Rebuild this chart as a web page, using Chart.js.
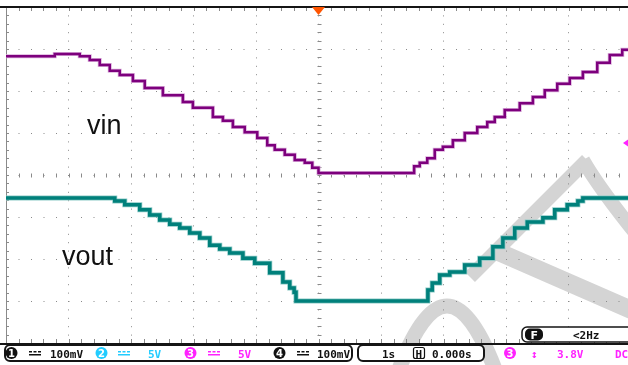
<!DOCTYPE html>
<html>
<head>
<meta charset="utf-8">
<script src="https://cdn.jsdelivr.net/npm/chart.js@4.4.0/dist/chart.umd.min.js"></script>
<style>
html, body { margin: 0; padding: 0; background: #fff; overflow: hidden; }
#wrap { position: relative; width: 634px; height: 365px; }
</style>
</head>
<body>
<div id="wrap"><canvas id="scope" width="634" height="365"></canvas></div>
<script>
// time in s (1 s/div, trigger at 0), level in divisions from screen centre
const vinTime = [-5.0, -4.22, -3.82, -3.66, -3.50, -3.34, -3.18, -2.97, -2.78, -2.49, -2.17, -2.01, -1.69, -1.53, -1.37, -1.18, -0.98, -0.82, -0.70, -0.54, -0.38, -0.22, -0.10, 0.0, 1.46, 1.53, 1.62, 1.74, 1.86, 1.99, 2.15, 2.34, 2.54, 2.70, 2.82, 2.98, 3.22, 3.43, 3.62, 3.82, 4.02, 4.23, 4.46, 4.66, 4.86, 5.0];
const vinLevel = [2.83, 2.88, 2.83, 2.74, 2.62, 2.48, 2.38, 2.24, 2.07, 1.90, 1.74, 1.60, 1.38, 1.29, 1.14, 1.02, 0.88, 0.71, 0.60, 0.48, 0.36, 0.29, 0.17, 0.05, 0.05, 0.21, 0.29, 0.40, 0.60, 0.67, 0.83, 1.00, 1.14, 1.26, 1.38, 1.55, 1.71, 1.86, 2.02, 2.17, 2.31, 2.45, 2.67, 2.86, 2.98, 3.02];

const voutTime = [-5.0, -3.38, -3.26, -3.10, -2.86, -2.70, -2.54, -2.38, -2.22, -2.06, -1.90, -1.74, -1.58, -1.42, -1.21, -1.02, -0.78, -0.57, -0.46, -0.39, -0.36, 1.74, 1.75, 1.82, 1.94, 2.10, 2.34, 2.58, 2.79, 2.95, 3.14, 3.34, 3.59, 3.78, 3.98, 4.15, 4.23, 5.0];
const voutLevel = [-0.55, -0.55, -0.62, -0.71, -0.83, -0.95, -1.07, -1.17, -1.26, -1.38, -1.50, -1.67, -1.76, -1.86, -1.98, -2.10, -2.33, -2.55, -2.69, -2.79, -3.00, -3.00, -2.74, -2.57, -2.38, -2.31, -2.14, -1.98, -1.71, -1.50, -1.26, -1.12, -1.02, -0.83, -0.71, -0.62, -0.55, -0.55];

const timeDivs = [-5, -4, -3, -2, -1, 0, 1, 2, 3, 4, 5];
const levelDivs = [-4, -3, -2, -1, 0, 1, 2, 3, 4];

const traceLabels = ['vin', 'vout'];

function points(xs, ys) {
    return xs.map((t, i) => ({ x: t, y: ys[i] }));
}

// scope screen decorations: watermark, minor ticks, markers, status bar
const scopeDecor = {
    id: 'scopeDecor',
    beforeDraw(chart) {
        const c = chart.ctx;
        c.save();
        c.fillStyle = '#fff';
        c.fillRect(0, 0, chart.width, chart.height);
        // grey watermark strokes
        c.strokeStyle = '#d4d4d4';
        c.lineCap = 'butt';
        c.lineWidth = 15;
        c.beginPath();
        c.moveTo(398, 372);
        c.quadraticCurveTo(447, 240, 496, 372);
        c.stroke();
        c.lineWidth = 14;
        c.beginPath();
        c.moveTo(470, 277);
        c.lineTo(587, 160);
        c.stroke();
        c.beginPath();
        c.moveTo(583, 160);
        c.quadraticCurveTo(600, 190, 645, 245);
        c.stroke();
        c.lineWidth = 18;
        c.beginPath();
        c.moveTo(494, 250);
        c.lineTo(645, 316);
        c.stroke();
        c.restore();
    },
    beforeDatasetsDraw(chart) {
        const { ctx: c, chartArea: a, scales: { x, y } } = chart;
        c.save();
        c.strokeStyle = '#8a8a8a';
        c.lineWidth = 1;
        const cx = Math.round(x.getPixelForValue(0)) + 0.5;
        const cy = Math.round(y.getPixelForValue(0)) + 0.5;
        c.beginPath();
        for (let i = 0; i <= 50; i++) {
            const px = Math.round(x.getPixelForValue(-5 + i * 0.2)) + 0.5;
            c.moveTo(px, cy - 2); c.lineTo(px, cy + 2);
            c.moveTo(px, a.top + 1); c.lineTo(px, a.top + 4);
            c.moveTo(px, a.bottom - 4); c.lineTo(px, a.bottom);
        }
        for (let i = 0; i <= 40; i++) {
            const py = Math.round(y.getPixelForValue(-4 + i * 0.2)) + 0.5;
            c.moveTo(cx - 2, py); c.lineTo(cx + 2, py);
            c.moveTo(a.left, py); c.lineTo(a.left + 3, py);
        }
        c.moveTo(a.left + 0.5, a.top);
        c.lineTo(a.left + 0.5, a.bottom);
        c.stroke();
        c.fillStyle = '#151515';
        c.fillRect(0, a.top - 1, chart.width, 2);
        c.restore();
    },
    afterDatasetsDraw(chart) {
        const { ctx: c, chartArea: a, scales: { x, y } } = chart;
        c.save();
        // trace names
        c.fillStyle = '#111';
        c.font = '27px "Liberation Sans", Arial, sans-serif';
        c.textBaseline = 'alphabetic';
        c.fillText(traceLabels[0], 87, 134);
        c.fillText(traceLabels[1], 62, 265);

        // trigger position marker
        const tx = x.getPixelForValue(0);
        c.fillStyle = '#ff5500';
        c.beginPath();
        c.moveTo(tx - 6.5, a.top);
        c.lineTo(tx + 6.5, a.top);
        c.lineTo(tx, a.top + 8);
        c.closePath();
        c.fill();

        // trigger level marker (ch3)
        c.fillStyle = '#ff22ff';
        c.beginPath();
        c.moveTo(623, 143);
        c.lineTo(628, 139.5);
        c.lineTo(628, 146.5);
        c.closePath();
        c.fill();

        // status bar
        const base = 358;
        c.fillStyle = '#151515';
        c.fillRect(0, a.bottom, chart.width, 2);
        c.strokeStyle = '#151515';
        c.lineWidth = 2;
        c.fillStyle = '#fff';
        c.beginPath(); c.roundRect(5, 345, 347, 16, 5); c.fill(); c.stroke();
        c.beginPath(); c.roundRect(358, 345, 126, 16, 5); c.fill(); c.stroke();
        // frequency box
        c.lineWidth = 1.5;
        c.beginPath(); c.roundRect(522, 327, 120, 15, 5); c.fill(); c.stroke();
        c.fillStyle = '#111';
        c.beginPath(); c.roundRect(525, 328.5, 18, 12, 5); c.fill();

        const mono = 'bold 11px "DejaVu Sans Mono", monospace';
        function badge(cxp, col, num) {
            c.fillStyle = col;
            c.beginPath(); c.arc(cxp, 353, 6, 0, Math.PI * 2); c.fill();
            c.fillStyle = '#fff';
            c.font = 'bold 10px "DejaVu Sans", sans-serif';
            c.textAlign = 'center';
            c.fillText(num, cxp, 357);
            c.textAlign = 'left';
        }
        function dcSym(x0, col) {
            c.fillStyle = col;
            c.fillRect(x0, 354, 12, 1.5);
            for (let k = 0; k < 3; k++) c.fillRect(x0 + k * 4.5, 351, 3, 1.5);
        }
        function txt(s, x0, col, y0) {
            c.fillStyle = col;
            c.font = mono;
            c.fillText(s, x0, y0 || base);
        }
        const cyan = '#22ccff';
        const mag = '#ff22ff';
        badge(11.5, '#111', '1'); dcSym(29, '#111'); txt('100mV', 50, '#111');
        badge(101.5, cyan, '2'); dcSym(118, cyan); txt('5V', 148, cyan);
        badge(190.5, mag, '3'); dcSym(208, mag); txt('5V', 238, mag);
        badge(279.5, '#111', '4'); dcSym(297, '#111'); txt('100mV', 317, '#111');
        txt('1s', 382, '#111');
        c.strokeStyle = '#111'; c.lineWidth = 1.2;
        c.beginPath(); c.roundRect(413.5, 347.5, 11, 11, 2); c.stroke();
        txt('H', 415.5, '#111');
        txt('0.000s', 432, '#111');
        badge(510, mag, '3');
        txt('\u2195', 531, mag);
        txt('3.8V', 557, mag);
        txt('DC', 615, mag);
        c.fillStyle = '#fff';
        c.font = 'bold 11px "DejaVu Sans", sans-serif';
        c.fillText('F', 530.5, 339);
        txt('<2Hz', 573, '#111', 339);
        c.restore();
    }
};

new Chart(document.getElementById('scope'), {
    type: 'line',
    data: {
        datasets: [
            { label: 'vin', order: 0, data: points(vinTime, vinLevel), borderColor: '#7d007d', borderWidth: 2.5, stepped: true, pointRadius: 0, fill: false },
            { label: 'vin halo', order: 1, data: points(vinTime, vinLevel), borderColor: '#dcb0dc', borderWidth: 4, stepped: true, pointRadius: 0, fill: false },
            { label: 'vout', order: 0, data: points(voutTime, voutLevel), borderColor: '#00807b', borderWidth: 3.5, stepped: true, pointRadius: 0, fill: false },
            { label: 'vout halo', order: 1, data: points(voutTime, voutLevel), borderColor: '#8cc9c6', borderWidth: 5, stepped: true, pointRadius: 0, fill: false }
        ]
    },
    options: {
        responsive: false,
        animation: false,
        events: [],
        layout: { padding: { left: 6, top: 7, right: 3, bottom: 22 } },
        plugins: { legend: { display: false }, tooltip: { enabled: false } },
        scales: {
            x: {
                type: 'linear',
                min: timeDivs[0],
                max: timeDivs[timeDivs.length - 1],
                afterBuildTicks: s => { s.ticks = timeDivs.map(v => ({ value: v })); },
                ticks: { display: false },
                grid: { color: '#8a8a8a', drawTicks: false, lineWidth: 1 },
                border: { display: false, dash: [1, 7.4] }
            },
            y: {
                type: 'linear',
                min: levelDivs[0],
                max: levelDivs[levelDivs.length - 1],
                afterBuildTicks: s => { s.ticks = levelDivs.map(v => ({ value: v })); },
                ticks: { display: false },
                grid: { color: '#8a8a8a', drawTicks: false, lineWidth: 1 },
                border: { display: false, dash: [1, 11.5] }
            }
        }
    },
    plugins: [scopeDecor]
});
</script>
</body>
</html>
